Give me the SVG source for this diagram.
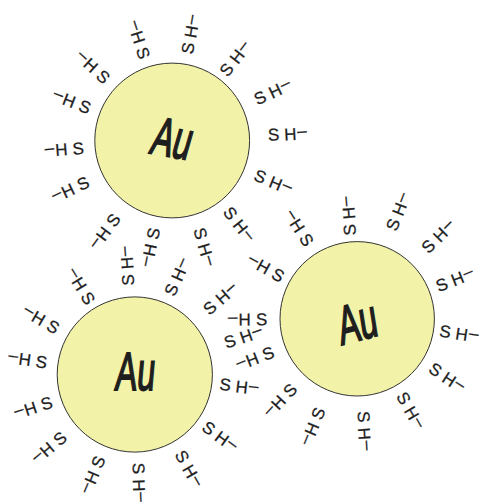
<svg xmlns="http://www.w3.org/2000/svg" width="479" height="502" viewBox="0 0 479 502">
  <style>
    .core { fill: #f2f2a8; stroke: #333; stroke-width: 1; }
    .au { font-family: "Liberation Sans", "DejaVu Sans", sans-serif; font-size: 54px; fill: #1e1e1e; stroke: #1e1e1e; stroke-width: 1.8; text-anchor: middle; }
    .lig { font-family: "Liberation Sans", "DejaVu Sans", sans-serif; font-size: 17px; fill: #1e1e1e; stroke: #1e1e1e; stroke-width: 0.25; dominant-baseline: central; }
    .end { text-anchor: end; }
  </style>
  <rect width="479" height="502" fill="#ffffff"/>

  <!-- Thiol-capped gold particle, top -->
  <g id="np-top" transform="translate(172.2,140.5)">
    <circle class="core" r="77.4"/>
    <text class="au" transform="translate(1,-3) rotate(10) skewX(-6) scale(0.6,1)" y="19.5">Au</text>
    <text class="lig" transform="rotate(-80.1) translate(88.1,0)">S<tspan dx="5">H</tspan><tspan dx="1" dy="-3">–</tspan></text>
    <text class="lig" transform="rotate(-52.3) translate(83.6,0)">S<tspan dx="5">H</tspan><tspan dx="1" dy="-3">–</tspan></text>
    <text class="lig" transform="rotate(-25.7) translate(91.9,0)">S<tspan dx="5">H</tspan><tspan dx="1" dy="-3">–</tspan></text>
    <text class="lig" transform="rotate(-3.1) translate(95.8,0)">S<tspan dx="5">H</tspan><tspan dx="1" dy="-3">–</tspan></text>
    <text class="lig" transform="rotate(22.4) translate(89.5,0)">S<tspan dx="5">H</tspan><tspan dx="1" dy="-3">–</tspan></text>
    <text class="lig" transform="rotate(51.6) translate(87.5,0)">S<tspan dx="5">H</tspan><tspan dx="1" dy="-3">–</tspan></text>
    <text class="lig" transform="rotate(73.3) translate(91.4,0)">S<tspan dx="5">H</tspan><tspan dx="1" dy="-3">–</tspan></text>
    <text class="lig end" transform="rotate(101.5) translate(89.2,0) rotate(180)"><tspan dy="-3">–</tspan><tspan dx="1" dy="3">H</tspan><tspan dx="5">S</tspan></text>
    <text class="lig end" transform="rotate(126.5) translate(93.4,0) rotate(180)"><tspan dy="-3">–</tspan><tspan dx="1" dy="3">H</tspan><tspan dx="5">S</tspan></text>
    <text class="lig end" transform="rotate(154.3) translate(93.2,0) rotate(180)"><tspan dy="-3">–</tspan><tspan dx="1" dy="3">H</tspan><tspan dx="5">S</tspan></text>
    <text class="lig end" transform="rotate(175.3) translate(88.7,0) rotate(180)"><tspan dy="-3">–</tspan><tspan dx="1" dy="3">H</tspan><tspan dx="5">S</tspan></text>
    <text class="lig end" transform="rotate(201.2) translate(88,0) rotate(180)"><tspan dy="-3">–</tspan><tspan dx="1" dy="3">H</tspan><tspan dx="5">S</tspan></text>
    <text class="lig end" transform="rotate(222.8) translate(88.4,0) rotate(180)"><tspan dy="-3">–</tspan><tspan dx="1" dy="3">H</tspan><tspan dx="5">S</tspan></text>
    <text class="lig end" transform="rotate(251.7) translate(86.4,0) rotate(180)"><tspan dy="-3">–</tspan><tspan dx="1" dy="3">H</tspan><tspan dx="5">S</tspan></text>
  </g>

  <!-- Thiol-capped gold particle, bottom left -->
  <g id="np-left" transform="translate(134.8,374.5)">
    <circle class="core" r="77.6"/>
    <text class="au" transform="translate(1,-4) skewX(-5) scale(0.6,1)" y="19.5">Au</text>
    <text class="lig" transform="rotate(-93.9) translate(89.2,0)">S<tspan dx="5">H</tspan><tspan dx="1" dy="-3">–</tspan></text>
    <text class="lig" transform="rotate(-66.4) translate(86.7,0)">S<tspan dx="5">H</tspan><tspan dx="1" dy="-3">–</tspan></text>
    <text class="lig" transform="rotate(-41.4) translate(94.7,0)">S<tspan dx="5">H</tspan><tspan dx="1" dy="-3">–</tspan></text>
    <text class="lig" transform="rotate(-19) translate(95.2,0)">S<tspan dx="5">H</tspan><tspan dx="1" dy="-3">–</tspan></text>
    <text class="lig" transform="rotate(6.6) translate(85.3,0)">S<tspan dx="5">H</tspan><tspan dx="1" dy="-3">–</tspan></text>
    <text class="lig" transform="rotate(36.2) translate(85.6,0)">S<tspan dx="5">H</tspan><tspan dx="1" dy="-3">–</tspan></text>
    <text class="lig" transform="rotate(60.3) translate(89.1,0)">S<tspan dx="5">H</tspan><tspan dx="1" dy="-3">–</tspan></text>
    <text class="lig" transform="rotate(87.9) translate(88.4,0)">S<tspan dx="5">H</tspan><tspan dx="1" dy="-3">–</tspan></text>
    <text class="lig end" transform="rotate(112.7) translate(89,0) rotate(180)"><tspan dy="-3">–</tspan><tspan dx="1" dy="3">H</tspan><tspan dx="5">S</tspan></text>
    <text class="lig end" transform="rotate(139.5) translate(92.8,0) rotate(180)"><tspan dy="-3">–</tspan><tspan dx="1" dy="3">H</tspan><tspan dx="5">S</tspan></text>
    <text class="lig end" transform="rotate(161.9) translate(87.2,0) rotate(180)"><tspan dy="-3">–</tspan><tspan dx="1" dy="3">H</tspan><tspan dx="5">S</tspan></text>
    <text class="lig end" transform="rotate(187.8) translate(88.5,0) rotate(180)"><tspan dy="-3">–</tspan><tspan dx="1" dy="3">H</tspan><tspan dx="5">S</tspan></text>
    <text class="lig end" transform="rotate(210.4) translate(89,0) rotate(180)"><tspan dy="-3">–</tspan><tspan dx="1" dy="3">H</tspan><tspan dx="5">S</tspan></text>
    <text class="lig end" transform="rotate(238.6) translate(83.8,0) rotate(180)"><tspan dy="-3">–</tspan><tspan dx="1" dy="3">H</tspan><tspan dx="5">S</tspan></text>
  </g>

  <!-- Thiol-capped gold particle, right -->
  <g id="np-right" transform="translate(357.2,318.8)">
    <circle class="core" r="77.2"/>
    <text class="au" transform="translate(0,2) rotate(-15) skewX(-6) scale(0.6,1)" y="19.5">Au</text>
    <text class="lig" transform="rotate(-94.6) translate(83.6,0)">S<tspan dx="5">H</tspan><tspan dx="1" dy="-3">–</tspan></text>
    <text class="lig" transform="rotate(-69) translate(95,0)">S<tspan dx="5">H</tspan><tspan dx="1" dy="-3">–</tspan></text>
    <text class="lig" transform="rotate(-45.4) translate(95.8,0)">S<tspan dx="5">H</tspan><tspan dx="1" dy="-3">–</tspan></text>
    <text class="lig" transform="rotate(-21.8) translate(85.5,0)">S<tspan dx="5">H</tspan><tspan dx="1" dy="-3">–</tspan></text>
    <text class="lig" transform="rotate(8.4) translate(83.2,0)">S<tspan dx="5">H</tspan><tspan dx="1" dy="-3">–</tspan></text>
    <text class="lig" transform="rotate(33.3) translate(87.6,0)">S<tspan dx="5">H</tspan><tspan dx="1" dy="-3">–</tspan></text>
    <text class="lig" transform="rotate(59.9) translate(86.4,0)">S<tspan dx="5">H</tspan><tspan dx="1" dy="-3">–</tspan></text>
    <text class="lig" transform="rotate(86.4) translate(92.6,0)">S<tspan dx="5">H</tspan><tspan dx="1" dy="-3">–</tspan></text>
    <text class="lig end" transform="rotate(112.4) translate(96.7,0) rotate(180)"><tspan dy="-3">–</tspan><tspan dx="1" dy="3">H</tspan><tspan dx="5">S</tspan></text>
    <text class="lig end" transform="rotate(133.3) translate(92.4,0) rotate(180)"><tspan dy="-3">–</tspan><tspan dx="1" dy="3">H</tspan><tspan dx="5">S</tspan></text>
    <text class="lig end" transform="rotate(158.8) translate(89.9,0) rotate(180)"><tspan dy="-3">–</tspan><tspan dx="1" dy="3">H</tspan><tspan dx="5">S</tspan></text>
    <text class="lig end" transform="rotate(179.7) translate(90,0) rotate(180)"><tspan dy="-3">–</tspan><tspan dx="1" dy="3">H</tspan><tspan dx="5">S</tspan></text>
    <text class="lig end" transform="rotate(209) translate(84.7,0) rotate(180)"><tspan dy="-3">–</tspan><tspan dx="1" dy="3">H</tspan><tspan dx="5">S</tspan></text>
    <text class="lig end" transform="rotate(237.3) translate(88.1,0) rotate(180)"><tspan dy="-3">–</tspan><tspan dx="1" dy="3">H</tspan><tspan dx="5">S</tspan></text>
  </g>
</svg>
